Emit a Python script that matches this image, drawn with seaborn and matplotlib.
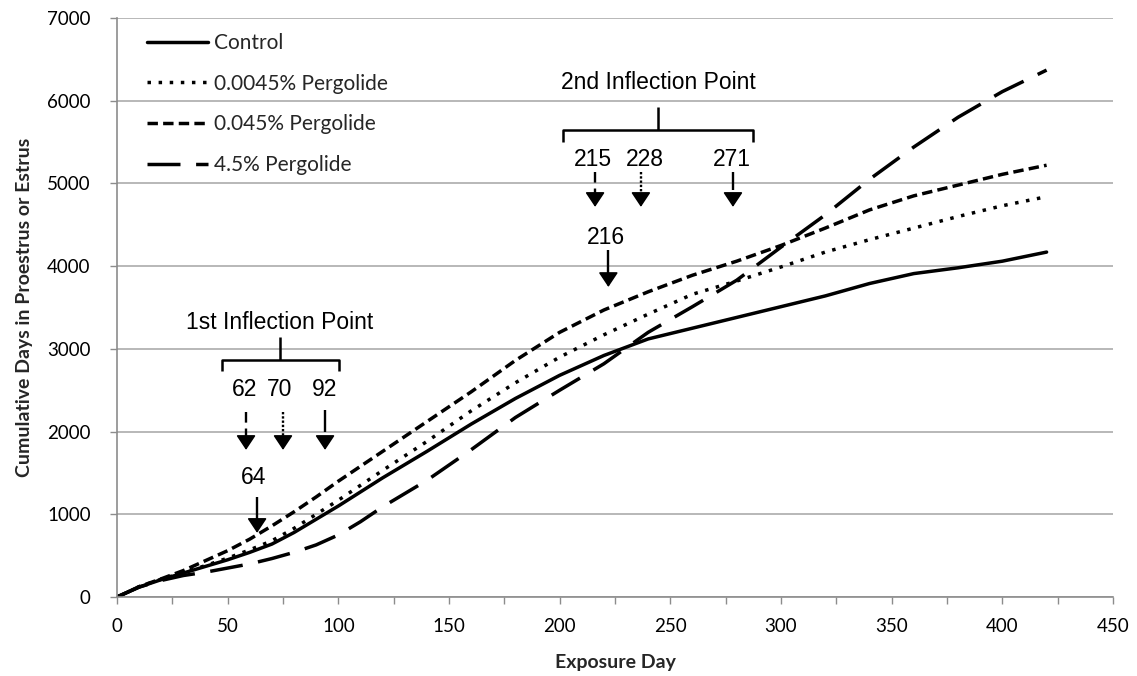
import numpy as np
import pandas as pd
import matplotlib
matplotlib.use("Agg")
import matplotlib.pyplot as plt
import seaborn as sns

# ---------------- data ----------------
days = [0, 10, 20, 30, 40, 50, 60, 70, 80, 90, 100, 110, 120, 140, 160, 180,
        200, 220, 240, 260, 280, 300, 320, 340, 360, 380, 400, 420]
control = [0, 120, 210, 290, 370, 450, 540, 640, 780, 940, 1100, 1270, 1440,
           1760, 2090, 2400, 2680, 2920, 3120, 3250, 3380, 3510, 3640, 3790,
           3910, 3980, 4060, 4170]
perg_00045 = [0, 125, 215, 295, 380, 470, 570, 680, 830, 1000, 1170, 1350, 1530,
              1880, 2250, 2590, 2900, 3170, 3420, 3660, 3820, 3990, 4170, 4320,
              4460, 4600, 4730, 4840]
perg_0045 = [0, 125, 220, 320, 440, 560, 700, 860, 1030, 1210, 1400, 1580, 1760,
             2120, 2480, 2860, 3200, 3470, 3690, 3890, 4060, 4250, 4460, 4680,
             4850, 4980, 5110, 5220]
perg_45 = [0, 120, 200, 260, 300, 350, 400, 465, 540, 630, 750, 910, 1090,
           1410, 1780, 2170, 2500, 2820, 3200, 3510, 3830, 4230, 4620, 5050,
           5440, 5800, 6110, 6370]
series_names = ["Control", "0.0045% Pergolide", "0.045% Pergolide", "4.5% Pergolide"]

x_ticks = [0, 50, 100, 150, 200, 250, 300, 350, 400, 450]
y_ticks = [0, 1000, 2000, 3000, 4000, 5000, 6000, 7000]

first_title = "1st Inflection Point"
first_labels = ["62", "70", "92"]
first_control_label = "64"
second_title = "2nd Inflection Point"
second_labels = ["215", "228", "271"]
second_control_label = "216"

df = pd.concat([
    pd.DataFrame({"day": days, "value": vals, "series": name})
    for name, vals in zip(series_names, [control, perg_00045, perg_0045, perg_45])
], ignore_index=True)

# ---------------- style ----------------
sns.set_theme(style="white")
plt.rcParams["font.family"] = ["Lato", "DejaVu Sans"]
ann_font = ["Liberation Sans", "DejaVu Sans"]

fig = plt.figure(figsize=(11.37, 6.76), dpi=100)
ax = fig.add_axes([117 / 1137, 1 - 597 / 676, 996 / 1137, 579 / 676])

LW = 2.5
dash_map = {
    "Control": "",
    "0.0045% Pergolide": (1, 2.2),
    "0.045% Pergolide": (3, 1.5),
    "4.5% Pergolide": (9.5, 4.5),
}
sns.lineplot(data=df, x="day", y="value", style="series", style_order=series_names,
             dashes=dash_map, color="black", linewidth=LW, ax=ax, legend="auto",
             estimator=None)

ax.set_xlim(0, 450)
ax.set_ylim(0, 7000)
ax.set_xticks(x_ticks)
ax.set_xticks(np.arange(25, 450, 50), minor=True)
ax.set_yticks(y_ticks)
ax.yaxis.grid(True, color="#ababab", linewidth=1.2)
ax.xaxis.grid(False)
ax.set_axisbelow(True)
for s in ["top", "right"]:
    ax.spines[s].set_visible(False)
for s in ["left", "bottom"]:
    ax.spines[s].set_color("#8c8c8c")
    ax.spines[s].set_linewidth(1.2)
ax.tick_params(axis="x", which="both", bottom=True, direction="out", length=5,
               width=1, color="#8c8c8c", pad=10, labelsize=13.5, labelcolor="black")
ax.tick_params(axis="y", which="major", left=True, direction="out", length=5,
               width=1, color="#8c8c8c", pad=14, labelsize=13.5, labelcolor="black")

ax.set_xlabel("Exposure Day", fontsize=14, fontweight="bold", labelpad=14)
ax.set_ylabel("Cumulative Days in Proestrus or Estrus", fontsize=14,
              fontweight="bold", labelpad=10)

handles, labels = ax.get_legend_handles_labels()
ax.legend(handles, labels, loc="upper left", bbox_to_anchor=(0.030, 0.974),
          frameon=False, handlelength=2.95, handletextpad=0.25, labelspacing=0.99,
          borderpad=0, borderaxespad=0, prop={"family": "Lato", "size": 15})

# ---------------- annotations ----------------
def bracket(xl, xr, xc, y_end, y_h, y_top):
    ax.plot([xl, xl, xr, xr], [y_end, y_h, y_h, y_end], color="black", lw=1.8,
            solid_joinstyle="round", solid_capstyle="butt")
    ax.plot([xc, xc], [y_h, y_top], color="black", lw=1.8, solid_capstyle="butt")


def arrow(x, y_top, y_tip, ls, shaft_bottom=None):
    head = 130
    if shaft_bottom is None:
        shaft_bottom = y_tip + head
    ax.plot([x, x], [y_top, shaft_bottom], color="black", lw=1.7, linestyle=ls,
            solid_capstyle="butt", dash_capstyle="butt")
    ax.annotate("", xy=(x, y_tip), xytext=(x, y_tip + head),
                arrowprops=dict(arrowstyle="-|>,head_length=0.6,head_width=0.4",
                                color="black", lw=1.2, shrinkA=0, shrinkB=0,
                                mutation_scale=15))


txt = dict(family=ann_font, fontsize=16.5, ha="center", va="center", color="black")

# first inflection point
bracket(47.4, 100.3, 73.6, 2733, 2866, 3144)
ax.text(73.6, 3313, first_title, **txt)
for xpos, lab in zip([57.8, 73.6, 94.0], first_labels):
    ax.text(xpos, 2510, lab, **txt)
arrow(58.3, 2237, 1778, (0, (4.5, 2.5)))
arrow(75.0, 2237, 1778, (0, (1, 0.8)))
arrow(94.0, 2260, 1778, "-", shaft_bottom=1990)
ax.text(61.5, 1440, first_control_label, **txt)
arrow(63.3, 1210, 775, "-")

# second inflection point
bracket(201.5, 287.4, 244.4, 5502, 5647, 5925)
ax.text(244.4, 6215, second_title, **txt)
for xpos, lab in zip([215.0, 238.6, 278.0], second_labels):
    ax.text(xpos, 5295, lab, **txt)
arrow(216.0, 5139, 4716, (0, (4.5, 2.5)))
arrow(236.7, 5139, 4716, (0, (1, 0.8)))
arrow(278.3, 5139, 4716, "-", shaft_bottom=4920)
ax.text(221.0, 4343, second_control_label, **txt)
arrow(222.0, 4196, 3748, "-")

fig.savefig("out.png", dpi=100)
